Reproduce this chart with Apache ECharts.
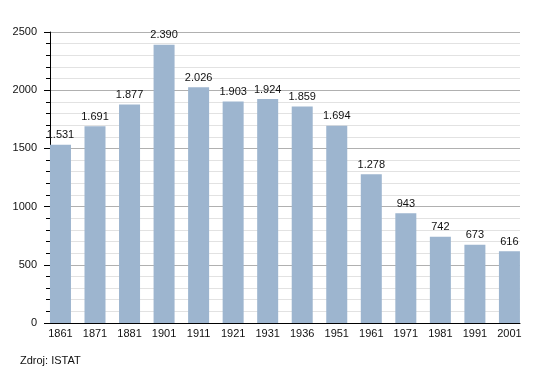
<!DOCTYPE html>
<html>
<head>
<meta charset="utf-8">
<script src="https://cdn.jsdelivr.net/npm/echarts@6/dist/echarts.min.js"></script>
<style>html,body{margin:0;padding:0;background:#fff}#c{width:550px;height:373px}</style>
</head>
<body>
<div id="c"></div>
<script>
const years = ['1861','1871','1881','1901','1911','1921','1931','1936','1951','1961','1971','1981','1991','2001'];
const population = [1531,1691,1877,2390,2026,1903,1924,1859,1694,1278,943,742,673,616];
const yTicks = { min: 0, max: 2500, interval: 500 };
const sourceText = 'Zdroj: ISTAT';

const FONT = '"Liberation Sans", Arial, sans-serif';
const fmt = v => String(v).replace(/\B(?=(\d{3})+(?!\d))/g, '.');

const chart = echarts.init(document.getElementById('c'), null, {renderer: 'canvas'});
chart.setOption({
  animation: false,
  backgroundColor: '#fff',
  textStyle: { fontFamily: FONT },
  grid: [
    { left: 50, right: 30, top: 32, bottom: 50 },
    { left: 43.2, width: 483.5, top: 32, bottom: 50 }
  ],
  xAxis: [
    { gridIndex: 0, type: 'value', min: 0, max: 1,
      axisLine: { show: true, lineStyle: { color: '#000', width: 1 } },
      axisTick: { show: false }, axisLabel: { show: false }, splitLine: { show: false } },
    { gridIndex: 1, type: 'category', data: years, boundaryGap: true,
      axisLine: { show: false }, axisTick: { show: false },
      axisLabel: { color: '#111', fontSize: 11, fontFamily: FONT, margin: 5, interval: 0 } }
  ],
  yAxis: [
    { gridIndex: 0, type: 'value', min: yTicks.min, max: yTicks.max, interval: yTicks.interval,
      axisLine: { show: true, lineStyle: { color: '#000', width: 1 } },
      axisTick: { show: true, length: 6, lineStyle: { color: '#000' } },
      minorTick: { show: true, splitNumber: 5, length: 4, lineStyle: { color: '#000' } },
      splitLine: { show: true, lineStyle: { color: '#b0b0b0', width: 1 } },
      minorSplitLine: { show: true, lineStyle: { color: '#e2e2e2', width: 1 } },
      axisLabel: { color: '#111', fontSize: 11, fontFamily: FONT, margin: 13, formatter: v => String(v) } },
    { gridIndex: 1, type: 'value', min: yTicks.min, max: yTicks.max, interval: yTicks.interval, show: false,
      splitLine: { show: false } }
  ],
  series: [{
    type: 'bar', xAxisIndex: 1, yAxisIndex: 1, data: population,
    barWidth: 21, clip: false,
    itemStyle: { color: '#9db5cf' },
    label: { show: true, position: 'top', distance: 4, color: '#111', fontSize: 11, fontFamily: FONT,
      formatter: p => fmt(p.value) }
  }],
  graphic: [{
    type: 'text', left: 20, top: 355,
    style: { text: sourceText, fill: '#111', font: '11px ' + FONT }
  }]
});
</script>
</body>
</html>
